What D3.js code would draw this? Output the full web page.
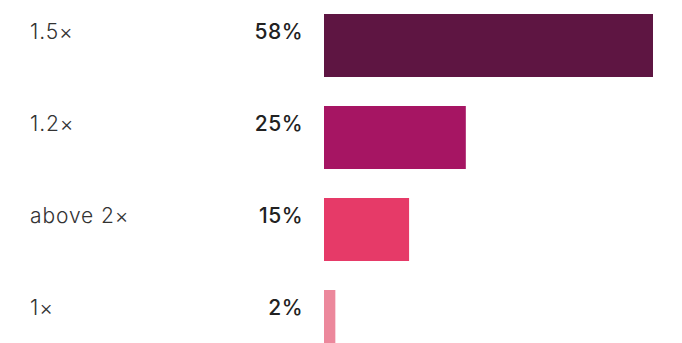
<!DOCTYPE html>
<html>
<head>
<meta charset="utf-8">
<script src="https://cdn.jsdelivr.net/npm/d3@7"></script>
<style>
  body { margin: 0; background: #fff; }
  text { font-family: Inter, "Noto Sans", sans-serif; }
</style>
</head>
<body>
<div id="chart"></div>
<script>
const categories = ["1.5×", "1.2×", "above 2×", "1×"];
const shares = [58, 25, 15, 2];
const barColors = ["#5e1542", "#a61563", "#e63a68", "#ec889c"];

var width = 682, height = 343;
var margin = { top: 14, left: 324 };
var step = 92, barH = 63;

var svg = d3.select("#chart")
  .append("svg")
  .attr("width", width)
  .attr("height", height);

// one band per category, bars 63px tall on a 92px step
var pad = (step - barH) / step;
var y = d3.scaleBand()
  .domain(categories)
  .range([margin.top, margin.top + step * (categories.length - pad)])
  .paddingInner(pad)
  .paddingOuter(0);

var x = d3.scaleLinear().domain([0, 58]).range([margin.left, 653]);

var rows = svg.selectAll("g.row")
  .data(categories)
  .enter()
  .append("g")
  .attr("class", "row");

rows.append("rect")
  .attr("x", x(0))
  .attr("y", d => y(d))
  .attr("width", (d, i) => x(shares[i]) - x(0))
  .attr("height", y.bandwidth())
  .attr("fill", (d, i) => barColors[i]);

rows.append("text")
  .attr("x", 30)
  .attr("y", d => y(d) + 19)
  .attr("dominant-baseline", "middle")
  .attr("font-size", 21)
  .attr("font-weight", 300)
  .attr("letter-spacing", 0.9)
  .attr("fill", "#333")
  .text(d => d);

rows.append("text")
  .attr("x", 303)
  .attr("y", d => y(d) + 19)
  .attr("dominant-baseline", "middle")
  .attr("text-anchor", "end")
  .attr("font-size", 21)
  .attr("font-weight", 500)
  .attr("letter-spacing", 0.5)
  .attr("fill", "#222")
  .text((d, i) => shares[i] + "%");
</script>
</body>
</html>
